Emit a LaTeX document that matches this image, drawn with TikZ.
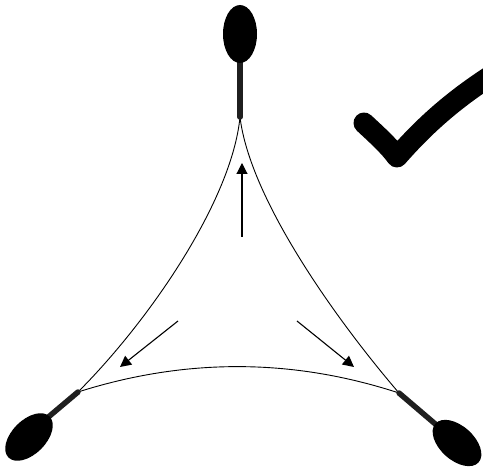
\documentclass[tikz,border=0pt]{standalone}
\usetikzlibrary{arrows.meta}
\begin{document}
\begin{tikzpicture}[x=1pt,y=-1pt,
  film/.style={line width=0.9pt,black},
  stem/.style={line width=5.5pt,black!88,line cap=round},
  flow/.style={line width=1.1pt,-{Triangle[length=11pt,width=11pt]}},
  blob/.style={fill=black}]
\useasboundingbox (0,0) rectangle (483,470);
\clip (0,0) rectangle (483,470);
% junction points
\coordinate (T) at (240,117);
\coordinate (L) at (78,392);
\coordinate (R) at (399,393);
% film curves
\draw[film] (T) .. controls (232,200) and (150,320) .. (L);
\draw[film] (T) .. controls (250,200) and (338,322) .. (R);
\draw[film] (L) .. controls (185,358) and (292,358) .. (R);
% stems
\coordinate (Te) at (240,62);
\coordinate (Le) at (33,430);
\coordinate (Re) at (447,434);
\draw[stem] (T) -- (Te);
\draw[stem] (L) -- (Le);
\draw[stem] (R) -- (Re);
% ellipses
\fill[blob] (240,34) ellipse[x radius=17pt, y radius=29pt];
\begin{scope}[shift={(29,437)},rotate=45]
\fill[blob] (0,0) ellipse[x radius=29pt, y radius=17pt];
\end{scope}
\begin{scope}[shift={(457,443)},rotate=-42]
\fill[blob] (0,0) ellipse[x radius=29pt, y radius=17pt];
\end{scope}
% arrows
\coordinate (a1) at (242,237); \coordinate (b1) at (242,163);
\coordinate (a2) at (178,321); \coordinate (b2) at (120,367);
\coordinate (a3) at (297,321); \coordinate (b3) at (354,367);
\draw[flow] (a1) -- (b1);
\draw[flow] (a2) -- (b2);
\draw[flow] (a3) -- (b3);
% check mark
\coordinate (c1) at (364,123);
\coordinate (c2) at (397,157);
\coordinate (c3) at (500,70);
\draw[line width=21pt,line cap=round,line join=round]
  (c1) .. controls (378,136) and (389,146) .. (c2)
       .. controls (425,125) and (455,98) .. (c3);
\end{tikzpicture}
\end{document}
